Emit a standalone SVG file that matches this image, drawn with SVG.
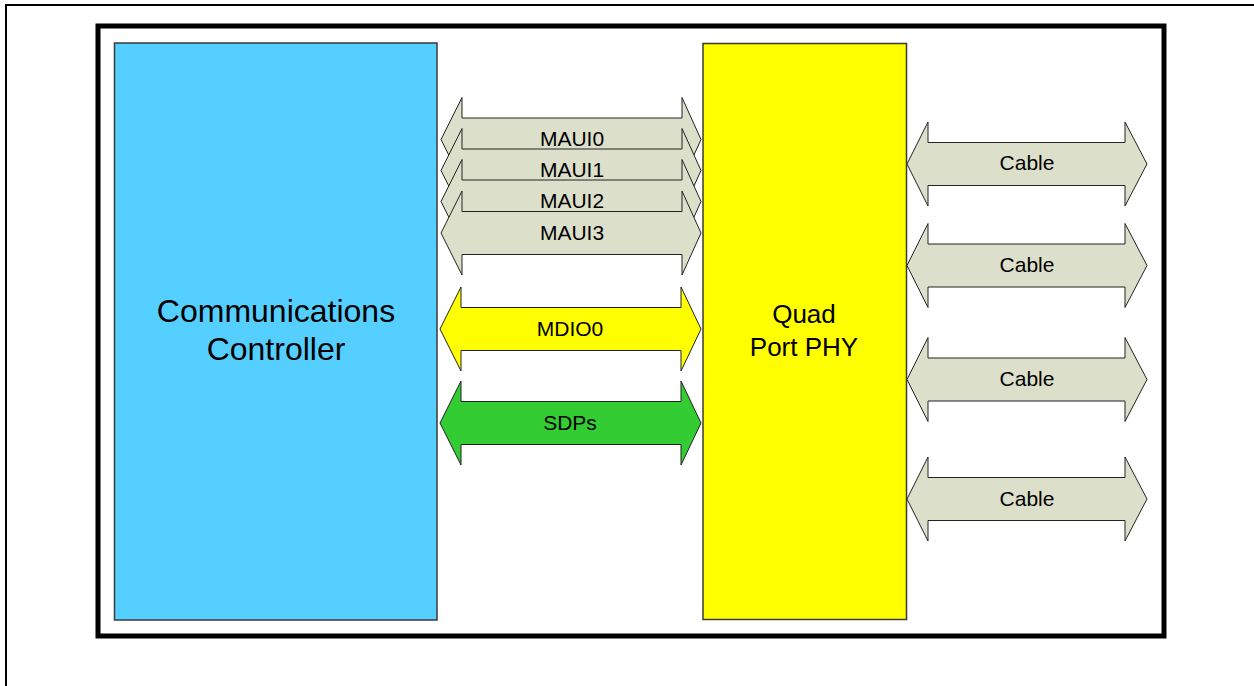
<svg xmlns="http://www.w3.org/2000/svg" width="1254" height="686" viewBox="0 0 1254 686">
<style>
.frame{fill:none;stroke:#000}
.block{stroke:#3a3a3a;stroke-width:1.5}
.arr{stroke:#222;stroke-width:1;stroke-linejoin:miter}
.bus{fill:#DCDFCA}
.mdio{fill:#FFFF00}
.sdp{fill:#33CC33}
.lbl{font-family:"Liberation Sans",Arial,sans-serif;font-size:21px;fill:#000;text-anchor:middle}
.big{font-family:"Liberation Sans",Arial,sans-serif;fill:#000;text-anchor:middle}
</style>
<rect width="1254" height="686" fill="#fff"/>
<g id="frames">
<path class="frame" stroke-width="2" d="M6,686 V5 H1254"/>
<rect class="frame" stroke-width="5" x="98" y="26" width="1066" height="610"/>
</g>
<g id="controller">
<rect class="block" x="114.5" y="43" width="322.5" height="577" fill="#55CFFF"/>
<text class="big" font-size="32" x="276" y="322">Communications</text>
<text class="big" font-size="32" x="276" y="360">Controller</text>
</g>
<g id="phy">
<rect class="block" x="703" y="43.5" width="203.5" height="576" fill="#FFFF00"/>
<text class="big" font-size="26" x="804" y="323">Quad</text>
<text class="big" font-size="26" x="804" y="356">Port PHY</text>
</g>
<g id="connectors">
<g id="maui0">
<path class="arr bus" d="M441,139.5 L462,97.5 L462,118 L682,118 L682,97.5 L701,139.5 L682,181.5 L682,161 L462,161 L462,181.5 Z"/>
<text class="lbl" x="572" y="146">MAUI0</text>
</g>
<g id="maui1">
<path class="arr bus" d="M441,170.5 L462,128.5 L462,149 L682,149 L682,128.5 L701,170.5 L682,212.5 L682,192 L462,192 L462,212.5 Z"/>
<text class="lbl" x="572" y="177">MAUI1</text>
</g>
<g id="maui2">
<path class="arr bus" d="M441,201.5 L462,159.5 L462,180 L682,180 L682,159.5 L701,201.5 L682,243.5 L682,223 L462,223 L462,243.5 Z"/>
<text class="lbl" x="572" y="208">MAUI2</text>
</g>
<g id="maui3">
<path class="arr bus" d="M441,233 L462,191 L462,211.5 L682,211.5 L682,191 L701,233 L682,275 L682,254.5 L462,254.5 L462,275 Z"/>
<text class="lbl" x="572" y="240">MAUI3</text>
</g>
<g id="mdio0">
<path class="arr mdio" d="M440,329 L461,287 L461,307.5 L681,307.5 L681,287 L701,329 L681,371 L681,350.5 L461,350.5 L461,371 Z"/>
<text class="lbl" x="570" y="336">MDIO0</text>
</g>
<g id="sdps">
<path class="arr sdp" d="M440,423 L461,381 L461,401.5 L681,401.5 L681,381 L701,423 L681,465 L681,444.5 L461,444.5 L461,465 Z"/>
<text class="lbl" x="570" y="430">SDPs</text>
</g>
<g id="cable1">
<path class="arr bus" d="M907,164 L928,122 L928,142.5 L1125,142.5 L1125,122 L1147,164 L1125,206 L1125,185.5 L928,185.5 L928,206 Z"/>
<text class="lbl" x="1027" y="170">Cable</text>
</g>
<g id="cable2">
<path class="arr bus" d="M907,265.5 L928,223.5 L928,244 L1125,244 L1125,223.5 L1147,265.5 L1125,307.5 L1125,287 L928,287 L928,307.5 Z"/>
<text class="lbl" x="1027" y="272">Cable</text>
</g>
<g id="cable3">
<path class="arr bus" d="M907,379.5 L928,337.5 L928,358 L1125,358 L1125,337.5 L1147,379.5 L1125,421.5 L1125,401 L928,401 L928,421.5 Z"/>
<text class="lbl" x="1027" y="386">Cable</text>
</g>
<g id="cable4">
<path class="arr bus" d="M907,499 L928,457 L928,477.5 L1125,477.5 L1125,457 L1147,499 L1125,541 L1125,520.5 L928,520.5 L928,541 Z"/>
<text class="lbl" x="1027" y="505.5">Cable</text>
</g>
</g>
</svg>
